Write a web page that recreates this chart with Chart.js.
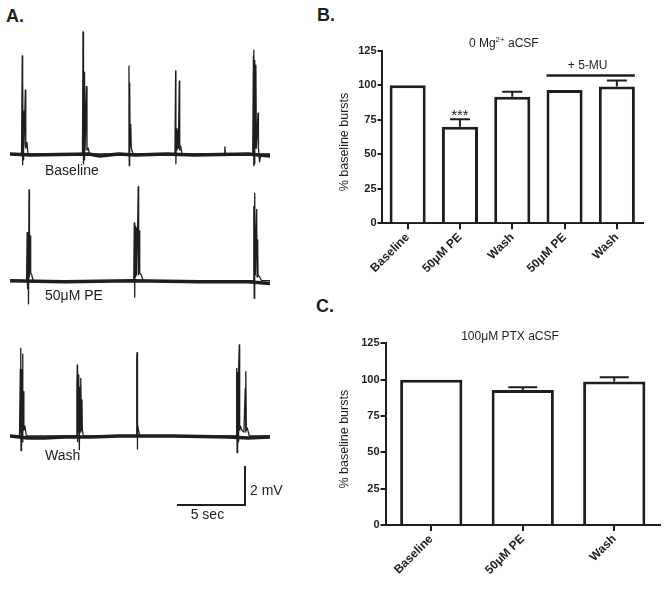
<!DOCTYPE html>
<html>
<head>
<meta charset="utf-8">
<script src="https://cdn.jsdelivr.net/npm/chart.js@4.4.1/dist/chart.umd.min.js"></script>
<style>
  html, body { margin: 0; padding: 0; background: #fff; }
  body { width: 665px; height: 593px; position: relative; overflow: hidden;
         font-family: "Liberation Sans", Arial, sans-serif; color: #1e1e1e; }
  canvas { position: absolute; }
  .lbl { position: absolute; font-size: 14px; line-height: 14px; white-space: nowrap; }
  .panel { position: absolute; font-size: 18px; line-height: 18px; font-weight: bold; }
</style>
</head>
<body>
<div class="panel" style="left:6px;top:7.4px">A.</div>
<div class="panel" style="left:317px;top:6.4px">B.</div>
<div class="panel" style="left:316px;top:296.8px">C.</div>

<canvas id="trace1" width="260" height="160" style="left:10px;top:20px"></canvas>
<canvas id="trace2" width="260" height="140" style="left:10px;top:180px"></canvas>
<canvas id="trace3" width="260" height="210" style="left:10px;top:320px"></canvas>
<div class="lbl" style="left:45px;top:163.2px">Baseline</div>
<div class="lbl" style="left:45px;top:288.2px">50μM PE</div>
<div class="lbl" style="left:45px;top:448.2px">Wash</div>
<div class="lbl" style="left:250px;top:482.5px">2 mV</div>
<div class="lbl" style="left:190.7px;top:507px">5 sec</div>

<canvas id="mgChart" width="335" height="310" style="left:330px;top:0px"></canvas>
<canvas id="ptxChart" width="335" height="283" style="left:330px;top:310px"></canvas>

<script>
// ─── Data ──────────────────────────────────────────────────────────────────
const yTicks = [0, 25, 50, 75, 100, 125];

// B. 0 Mg2+ aCSF
const mgCats  = ["Baseline", "50μM PE", "Wash", "50μM PE", "Wash"];
const mgMeans = [100, 70, 91.7, 96.5, 99];
const mgErrs  = [0, 5.3, 3.6, 0, 4.4];
const mgMuLevel = 107;          // height of the "+ 5-MU" bar, % units

// C. 100μM PTX aCSF
const ptxCats  = ["Baseline", "50μM PE", "Wash"];
const ptxMeans = [100, 92.9, 98.8];
const ptxErrs  = [0, 1.8, 2.8];

// A. field recordings, [sec, mV] vertices
const TRACE_SEC = 19.12;
const base1 = [[0,0],[1.5,-0.05],[5.8,0],[6.6,-0.1],[8.0,0],[9.2,-0.05],[11.5,0],[13.5,-0.05],[17.5,0],[19.12,-0.1]];
const spikes1 = [
  [0,0],[0.85,0],[0.90,5.03],[0.92,-0.55],[0.94,3.85],[0.97,-0.3],[1.00,2.2],[1.03,0.4],[1.13,3.28],[1.16,0.3],[1.25,0.6],[1.32,0],
  [5.33,0],[5.37,6.26],[5.39,-0.5],[5.42,4.56],[5.45,-0.3],[5.48,4.2],[5.52,0.2],[5.62,3.45],[5.66,0.2],[5.75,0.3],[5.85,0],
  [8.70,0],[8.75,4.51],[8.77,-0.6],[8.80,3.64],[8.83,0.4],[8.88,1.5],[8.92,0.3],[9.05,0],
  [12.13,0],[12.18,4.26],[12.20,-0.5],[12.24,1.3],[12.28,0.2],[12.33,1.2],[12.38,0.3],[12.45,3.74],[12.48,0.2],[12.55,0.4],[12.65,0],
  [15.75,0],[15.80,0.37],[15.85,0],
  [17.85,0],[17.90,5.0],[17.92,-0.6],[17.94,5.33],[17.96,-0.5],[17.99,4.8],[18.01,0.5],[18.05,3.5],[18.07,0.3],[18.09,4.56],[18.12,0.3],[18.24,2.1],[18.27,0.3],[18.35,-0.4],[18.45,0],[19.12,0]
];
const base2 = [[0,0],[4,-0.05],[9,0],[14,-0.05],[17.5,-0.05],[19.12,-0.15]];
const spikes2 = [
  [0,0],[1.22,0],[1.26,2.46],[1.29,-0.4],[1.33,2.4],[1.36,-1.19],[1.40,4.65],[1.43,0.2],[1.48,2.3],[1.52,0.4],[1.6,0.3],[1.7,0],
  [9.10,0],[9.14,2.97],[9.17,-0.85],[9.20,2.8],[9.24,0.2],[9.28,2.7],[9.32,0.3],[9.38,2.5],[9.43,4.82],[9.46,0.3],[9.50,2.56],[9.54,0.4],[9.65,0.3],[9.8,0],
  [17.88,0],[17.93,3.8],[17.96,-0.9],[17.98,3.7],[18.01,4.48],[18.04,0.3],[18.14,3.66],[18.17,0.2],[18.21,2.09],[18.24,0.3],[18.35,0.2],[18.5,0],[19.12,0]
];
const base3 = [[0,0],[1.3,-0.1],[2.5,-0.1],[4,-0.05],[6,-0.05],[8,0],[12,0],[16,-0.05],[17.5,-0.1],[19.12,-0.05]];
const spikes3 = [
  [0,0],[0.70,0],[0.76,3.42],[0.79,4.5],[0.81,-0.75],[0.85,3.4],[0.89,-0.3],[0.93,4.2],[0.95,0.2],[0.98,2.27],[1.02,0.3],[1.1,0.5],[1.2,0],
  [4.88,0],[4.92,2.6],[4.95,3.64],[4.97,-0.3],[5.01,2.6],[5.04,0.2],[5.07,3.13],[5.10,-0.7],[5.15,2.5],[5.19,0.2],[5.22,2.96],[5.25,0.3],[5.29,1.85],[5.32,0.3],[5.4,0],
  [9.28,0],[9.32,4.04],[9.34,4.27],[9.36,-0.67],[9.39,0.6],[9.45,0.3],[9.55,0],
  [16.62,0],[16.67,3.47],[16.70,-0.85],[16.74,3.25],[16.78,-0.3],[16.81,3.4],[16.86,4.67],[16.89,0.3],[16.95,0.5],[17.05,0.3],[17.20,0.2],[17.30,2.45],[17.33,0.2],[17.35,3.3],[17.38,0.3],[17.45,0.4],[17.6,0],[19.12,0]
];
// 5 sec / 2 mV calibration bar
const scaleBar = [[12.28,-3.54],[17.28,-3.54],[17.28,-1.54]];

// ─── Style ─────────────────────────────────────────────────────────────────
const INK = "#1e1e1e";
const FONT = '"Liberation Sans", Arial, sans-serif';

// ─── Traces ────────────────────────────────────────────────────────────────
function traceChart(id, yMin, yMax, sets) {
  return new Chart(document.getElementById(id), {
    type: "line",
    data: {
      datasets: sets.map(s => ({
        data: s.pts.map(([x, y]) => ({ x, y })),
        borderColor: INK, borderWidth: s.w,
        pointRadius: 0, tension: 0, clip: false,
        borderJoinStyle: s.join || "round", borderCapStyle: "butt"
      }))
    },
    options: {
      responsive: false, animation: false, events: [],
      layout: { padding: 0 },
      plugins: { legend: { display: false }, tooltip: { enabled: false } },
      scales: {
        x: { type: "linear", display: false, min: 0, max: TRACE_SEC },
        y: { display: false, min: yMin, max: yMax }
      }
    }
  });
}

traceChart("trace1", -1.333, 6.872, [{ pts: base1, w: 3.5 }, { pts: spikes1, w: 1.3 }]);
traceChart("trace2", -2.015, 5.164, [{ pts: base2, w: 3.5 }, { pts: spikes2, w: 1.3 }]);
traceChart("trace3", -4.821, 5.949, [{ pts: base3, w: 3.5 }, { pts: spikes3, w: 1.3 }, { pts: scaleBar, w: 2, join: "miter" }]);

// ─── Bar panels ────────────────────────────────────────────────────────────
const errorBars = (errs, cap) => ({
  id: "errorBars",
  afterDatasetsDraw(chart) {
    const { ctx, scales: { y } } = chart;
    const vals = chart.data.datasets[0].data;
    ctx.save();
    ctx.strokeStyle = INK; ctx.lineWidth = 2;
    chart.getDatasetMeta(0).data.forEach((bar, i) => {
      if (!errs[i]) return;
      const top = y.getPixelForValue(vals[i] + errs[i]);
      ctx.beginPath();
      ctx.moveTo(bar.x, y.getPixelForValue(vals[i]));
      ctx.lineTo(bar.x, top);
      ctx.moveTo(bar.x - cap / 2, top);
      ctx.lineTo(bar.x + cap / 2, top);
      ctx.stroke();
    });
    ctx.restore();
  }
});

const yTitle = {
  id: "yTitle",
  afterDraw(chart) {
    const { ctx, chartArea } = chart;
    ctx.save();
    ctx.translate(15, (chartArea.top + chartArea.bottom) / 2 + 5);
    ctx.rotate(-Math.PI / 2);
    ctx.font = `12.5px ${FONT}`;
    ctx.fillStyle = INK; ctx.textAlign = "center"; ctx.textBaseline = "middle";
    ctx.fillText("% baseline bursts", 0, 0);
    ctx.restore();
  }
};

function barChart(id, cats, means, errs, o) {
  const yFont = { family: FONT, size: 11, weight: "bold" };
  const xFont = { family: FONT, size: 12, weight: "bold" };
  return new Chart(document.getElementById(id), {
    type: "bar",
    data: {
      labels: cats,
      datasets: [{
        data: means, backgroundColor: "#fff", borderColor: INK, borderWidth: 3,
        barPercentage: o.barPct, categoryPercentage: 1
      }]
    },
    options: {
      responsive: false, animation: false, events: [],
      layout: { padding: o.pad },
      plugins: { legend: { display: false }, tooltip: { enabled: false } },
      scales: {
        x: {
          offset: true,
          grid: { offset: false, drawOnChartArea: false, color: INK, lineWidth: 2, tickLength: o.xTick },
          border: { color: INK, width: 2 },
          ticks: { color: INK, font: xFont, minRotation: 45, maxRotation: 45, padding: 1 },
          afterFit: s => { s.height = o.xh; }
        },
        y: {
          min: yTicks[0], max: yTicks[yTicks.length - 1],
          grid: { drawOnChartArea: false, color: INK, lineWidth: 2, tickLength: o.yTick },
          border: { color: INK, width: 2 },
          ticks: { stepSize: yTicks[1] - yTicks[0], color: INK, font: yFont, padding: 1 },
          afterFit: s => { s.width = o.yw; }
        }
      }
    },
    plugins: [errorBars(errs, o.cap), yTitle, o.notes]
  });
}

const mgNotes = {
  id: "mgNotes",
  afterDraw(chart) {
    const { ctx, scales: { y } } = chart;
    const bars = chart.getDatasetMeta(0).data;
    ctx.save();
    ctx.fillStyle = INK; ctx.strokeStyle = INK;
    ctx.textBaseline = "alphabetic"; ctx.textAlign = "left";
    // title with superscript
    const parts = [["0 Mg", 12, 0], ["2+", 8, -5.5], [" aCSF", 12, 0]];
    const widths = parts.map(([t, s]) => { ctx.font = `${s}px ${FONT}`; return ctx.measureText(t).width; });
    let x = 173.8 - widths.reduce((a, b) => a + b, 0) / 2;
    parts.forEach(([t, s, dy], i) => {
      ctx.font = `${s}px ${FONT}`;
      ctx.fillText(t, x, 47.3 + dy);
      x += widths[i];
    });
    // significance mark
    ctx.textAlign = "center";
    ctx.font = `15px ${FONT}`;
    ctx.fillText("***", bars[1].x, y.getPixelForValue(mgMeans[1] + mgErrs[1]) + 1);
    // + 5-MU bracket
    const l = bars[3].x - bars[3].width / 2, r = bars[4].x + bars[4].width / 2;
    const by = y.getPixelForValue(mgMuLevel);
    ctx.lineWidth = 2.5;
    ctx.beginPath(); ctx.moveTo(l, by); ctx.lineTo(r, by); ctx.stroke();
    ctx.font = `12px ${FONT}`;
    ctx.textBaseline = "middle";
    ctx.fillText("+ 5-MU", (l + r) / 2 - 3, by - 10);
    ctx.restore();
  }
};

const ptxNotes = {
  id: "ptxNotes",
  afterDraw(chart) {
    const { ctx } = chart;
    ctx.save();
    ctx.fillStyle = INK; ctx.font = `12px ${FONT}`;
    ctx.textAlign = "center"; ctx.textBaseline = "alphabetic";
    ctx.fillText("100μM PTX aCSF", 180, 30);
    ctx.restore();
  }
};

barChart("mgChart", mgCats, mgMeans, mgErrs, {
  pad: { top: 50.7, right: 22, bottom: 0, left: 0 }, yw: 51.5, xh: 86.7,
  barPct: 0.69, cap: 20, xTick: 6, yTick: 4, notes: mgNotes
});
barChart("ptxChart", ptxCats, ptxMeans, ptxErrs, {
  pad: { top: 33.3, right: 5, bottom: 0, left: 0 }, yw: 55.5, xh: 68,
  barPct: 0.68, cap: 29, xTick: 6, yTick: 5, notes: ptxNotes
});
</script>
</body>
</html>
